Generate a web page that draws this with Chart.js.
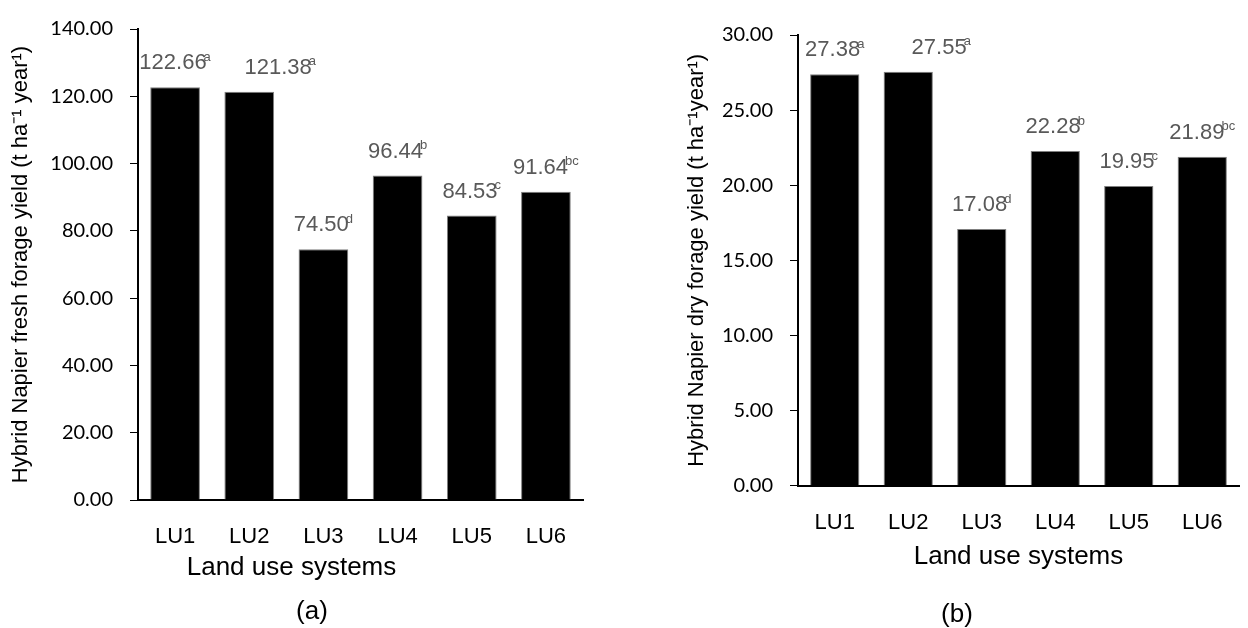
<!DOCTYPE html>
<html>
<head>
<meta charset="utf-8">
<script src="https://cdn.jsdelivr.net/npm/chart.js@4.4.1/dist/chart.umd.min.js"></script>
<style>
  html, body { margin: 0; padding: 0; background: #fff; }
  body { width: 1248px; height: 628px; position: relative; overflow: hidden;
         font-family: "Liberation Sans", Arial, sans-serif; }
  #wrapA { position: absolute; left: 0; top: 0; width: 650px; height: 628px; }
  #wrapB { position: absolute; left: 624px; top: 0; width: 624px; height: 628px; }
  .panel { position: absolute; font-size: 26px; line-height: 1; color: #000;
           transform: translate(-50%, -50%); white-space: nowrap; }
</style>
</head>
<body>
<div id="wrapA"><canvas id="chartA"></canvas></div>
<div id="wrapB"><canvas id="chartB"></canvas></div>
<div class="panel" style="left:312px; top:610px;">(a)</div>
<div class="panel" style="left:957px; top:613px;">(b)</div>

<script>
// Land use systems on the x axis
const categories = ['LU1', 'LU2', 'LU3', 'LU4', 'LU5', 'LU6'];

// Hybrid Napier fresh forage yield (t ha-1 year-1)
const freshYield = [122.66, 121.38, 74.50, 96.44, 84.53, 91.64];
const freshLetters = ['a', 'a', 'd', 'b', 'c', 'bc'];

// Hybrid Napier dry forage yield (t ha-1 year-1)
const dryYield = [27.38, 27.55, 17.08, 22.28, 19.95, 21.89];
const dryLetters = ['a', 'a', 'd', 'b', 'c', 'bc'];

// Axis ranges
const freshAxis = { min: 0, max: 140, step: 20 };
const dryAxis = { min: 0, max: 30, step: 5 };

const SANS = '"Liberation Sans", Arial, sans-serif';
const TICK_FONT = 'Lato, "Open Sans", sans-serif';

// Draws the mean value above each bar, followed by its significance letters
const valueLabels = {
  id: 'valueLabels',
  afterDatasetsDraw(chart, args, opts) {
    const ctx = chart.ctx;
    const values = chart.data.datasets[0].data;
    const bars = chart.getDatasetMeta(0).data;
    ctx.save();
    ctx.fillStyle = opts.color;
    ctx.textAlign = 'left';
    ctx.textBaseline = 'middle';
    bars.forEach((bar, i) => {
      const num = values[i].toFixed(2);
      const sup = opts.letters[i];
      ctx.font = opts.size + 'px ' + SANS;
      const numW = ctx.measureText(num).width;
      ctx.font = opts.supSize + 'px ' + SANS;
      const supW = ctx.measureText(sup).width;
      const total = numW + supW - opts.overlap;
      const x0 = bar.x - total / 2 + (opts.shiftX[i] || 0);
      const yc = bar.y - opts.gap;
      ctx.font = opts.size + 'px ' + SANS;
      ctx.fillText(num, x0, yc);
      ctx.font = opts.supSize + 'px ' + SANS;
      ctx.fillText(sup, x0 + numW - opts.overlap, yc - 6);
    });
    ctx.restore();
  }
};

function yScale(range, title, width, titlePad) {
  return {
    min: range.min,
    max: range.max,
    afterFit: s => { s.width = width; },
    border: { display: true, color: '#000', width: 2 },
    grid: { display: true, drawOnChartArea: false, drawTicks: true, tickLength: 8,
            tickColor: '#000', tickWidth: 1, color: '#000' },
    ticks: { stepSize: range.step, padding: 17, color: '#000',
             font: { family: TICK_FONT, size: 20 },
             callback: v => Number(v).toFixed(2) },
    title: { display: true, text: title, color: '#000',
             font: { family: SANS, size: 22 },
             padding: { top: titlePad, bottom: 0 } }
  };
}

function xScale(height, withTitle) {
  return {
    afterFit: s => { s.height = height; },
    border: { display: true, color: '#000', width: 2 },
    grid: { display: false, drawTicks: false },
    ticks: { padding: 24, color: '#000', font: { family: SANS, size: 22 } },
    title: { display: withTitle, text: 'Land use systems', color: '#000',
             font: { family: SANS, size: 26 }, padding: { top: 0, bottom: 0 } }
  };
}

function barDataset(values) {
  return {
    data: values,
    backgroundColor: '#000',
    borderColor: '#7f7f7f',
    borderWidth: 1,
    barPercentage: 0.67,
    categoryPercentage: 1
  };
}

// (a) fresh forage yield
new Chart(document.getElementById('chartA'), {
  type: 'bar',
  data: { labels: categories, datasets: [barDataset(freshYield)] },
  plugins: [valueLabels],
  options: {
    responsive: true,
    maintainAspectRatio: false,
    animation: false,
    layout: { padding: { left: 0, top: 19, right: 67, bottom: 44.4 } },
    scales: {
      x: xScale(52.4, false),
      y: yScale(freshAxis, 'Hybrid Napier fresh forage yield (t ha\u207B\u00B9 year\u00B9)', 138, 8)
    },
    plugins: {
      legend: { display: false },
      tooltip: { enabled: false },
      title: { display: false },
      subtitle: { display: true, position: 'bottom', text: 'Land use systems', color: '#000',
                  font: { family: SANS, size: 26, weight: 'normal' }, padding: { top: 0, bottom: 0 } },
      valueLabels: { letters: freshLetters, color: '#595959', size: 22, supSize: 13,
                     overlap: 3, gap: 24, shiftX: [0, 31, 0, 0, 0, 0] }
    }
  }
});

// (b) dry forage yield
new Chart(document.getElementById('chartB'), {
  type: 'bar',
  data: { labels: categories, datasets: [barDataset(dryYield)] },
  plugins: [valueLabels],
  options: {
    responsive: true,
    maintainAspectRatio: false,
    animation: false,
    layout: { padding: { left: 0, top: 35, right: 9, bottom: 55.1 } },
    scales: {
      x: xScale(87.2, true),
      y: yScale(dryAxis, 'Hybrid Napier dry forage yield (t ha\u207B\u00B9year\u00B9)', 174, 60)
    },
    plugins: {
      legend: { display: false },
      tooltip: { enabled: false },
      title: { display: false },
      valueLabels: { letters: dryLetters, color: '#595959', size: 22, supSize: 13,
                     overlap: 3, gap: 24, shiftX: [0, 33, 0, 0, 0, 0] }
    }
  }
});
</script>
</body>
</html>
